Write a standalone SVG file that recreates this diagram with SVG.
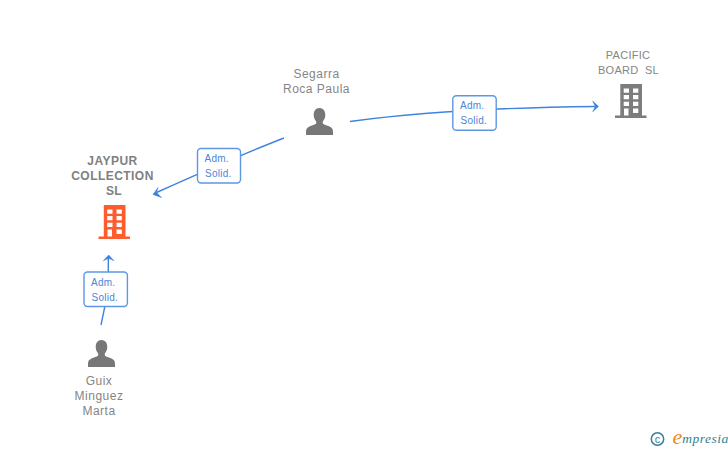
<svg xmlns="http://www.w3.org/2000/svg" width="728" height="450" viewBox="0 0 728 450">
<style>
text{font-family:"Liberation Sans",Arial,sans-serif;text-anchor:middle;white-space:pre}
.n{font-size:12px;fill:#858585;letter-spacing:.5px}
.b{font-weight:700;letter-spacing:.45px;fill:#808080}
.s{font-size:11px;letter-spacing:.25px}
.l{font-size:10px;fill:#4a86d8;letter-spacing:.25px;text-anchor:start}
.c{fill:none;stroke:#3f83de;stroke-width:1.4}
.a{fill:#3a80dd;stroke:#3a80dd;stroke-width:.5}
.box{fill:#fff;stroke:#5d97e4;stroke-width:1.4}
</style>
<defs>
<symbol id="bld" viewBox="0 0 32 34" width="32" height="34" overflow="visible">
<path fill-rule="evenodd" d="M5.300 0H27V31.500H31.500V34H0V31.500H5.300ZM8.700 4.500V8.700H14V4.500ZM18 4.500V8.700H23.300V4.500ZM8.700 11V15.200H14V11ZM18 11V15.200H23.300V11ZM8.700 17.700V22H14V17.700ZM18 17.700V22H23.300V17.700ZM9 24.500V31.500H13.500V24.500ZM18 24.500V29H23.300V24.500Z"/>
</symbol>
<symbol id="per" viewBox="0 0 27 27" width="27" height="27" overflow="visible">
<path d="M13.500 0C17.300 0 19.300 3 19.300 6.800C19.300 10 18.100 12 16.800 13.500V15C16.800 16.500 20 17 23 18.300C25.700 19.500 27 21 27 23.500V27H0V23.500C0 21 1.300 19.500 4 18.300C7 17 10.200 16.500 10.200 15V13.500C8.900 12 7.700 10 7.700 6.800C7.700 3 9.700 0 13.500 0Z"/>
</symbol>
</defs>
<rect width="728" height="450" fill="#fff"/>
<g id="connectors">
<path class="c" d="M284 138Q240 155 156.500 192.500"/>
<path class="a" d="M153 194.500L158 187.500L156.500 192.500L161.500 197.500Z"/>
<path class="c" d="M350 121.500Q450 108 595.500 106.500"/>
<path class="a" d="M598.500 106.500L592.700 101L595.300 106.500L592.700 111.700Z"/>
<path class="c" d="M101 325L108.300 290V258"/>
<path class="a" d="M108.700 255L103.300 260.700L108.700 258.300L114 260.700Z"/>
</g>
<g id="label-segarra-jaypur"><rect class="box" x="197.500" y="148.500" width="43" height="34.500" rx="3.500"/><text class="l" x="204.500" y="162.300">Adm.</text><text class="l" x="205" y="177.300">Solid.</text></g>
<g id="label-segarra-pacific"><rect class="box" x="452.800" y="95.800" width="43.400" height="34.500" rx="3.500"/><text class="l" x="460" y="109.300">Adm.</text><text class="l" x="460.500" y="124.300">Solid.</text></g>
<g id="label-guix-jaypur"><rect class="box" x="84" y="272" width="43.400" height="34.500" rx="3.500"/><text class="l" x="91" y="285.800">Adm.</text><text class="l" x="91.500" y="300.800">Solid.</text></g>
<g id="node-jaypur"><text class="n b" x="112.500" y="165">JAYPUR</text><text class="n b" x="112.500" y="180">COLLECTION</text><text class="n b" x="114" y="195">SL</text><use href="#bld" x="98.500" y="205" fill="#ff5c2e"/></g>
<g id="node-pacific"><text class="n s" x="628" y="59">PACIFIC</text><text class="n s" x="628.500" y="74">BOARD  SL</text><use href="#bld" x="615" y="84" fill="#7d7d7d"/></g>
<g id="node-segarra"><text class="n" x="316.500" y="78">Segarra</text><text class="n" x="316.500" y="93">Roca Paula</text><use href="#per" x="306" y="108" fill="#777"/></g>
<g id="node-guix"><text class="n" x="99" y="385">Guix</text><text class="n" x="99" y="400">Minguez</text><text class="n" x="99" y="415">Marta</text><use href="#per" x="88" y="340" fill="#777"/></g>
<g id="brand"><circle cx="657.500" cy="439" r="6.200" fill="none" stroke="#3d7f97" stroke-width="1.500"/><text x="657.500" y="442.500" style="font-size:11px;fill:#3d7f97">c</text><text x="677.500" y="444" style="font-family:'Liberation Serif',serif;font-style:italic;font-size:22px;fill:#ef8a17">e</text><text x="705.500" y="443" style="font-family:'Liberation Serif',serif;font-size:13.500px;font-style:italic;fill:#2f7f8f;letter-spacing:.5px">mpresia</text></g>
</svg>
